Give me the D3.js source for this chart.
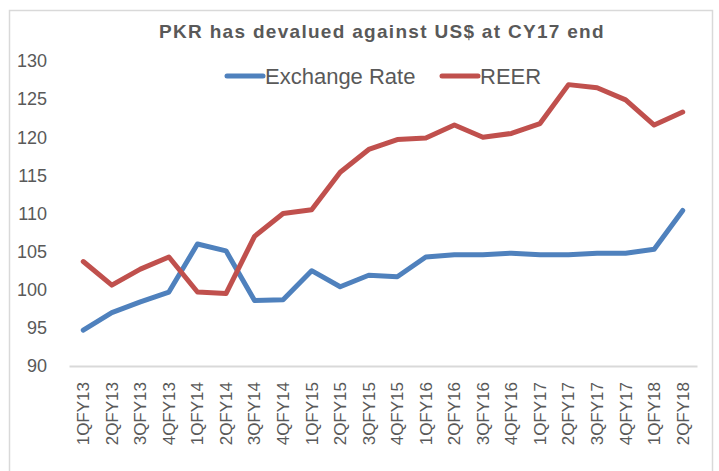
<!DOCTYPE html>
<html>
<head>
<meta charset="utf-8">
<script src="https://cdn.jsdelivr.net/npm/d3@7"></script>
<style>
  body { margin: 0; background: #fff; }
  text { fill: #595959; font-family: "Liberation Sans", Arial, sans-serif; }
</style>
</head>
<body>
<div id="chart"></div>
<script>
// quarters on the x axis
var quarters = ["1QFY13", "2QFY13", "3QFY13", "4QFY13", "1QFY14", "2QFY14", "3QFY14", "4QFY14",
  "1QFY15", "2QFY15", "3QFY15", "4QFY15", "1QFY16", "2QFY16", "3QFY16", "4QFY16",
  "1QFY17", "2QFY17", "3QFY17", "4QFY17", "1QFY18", "2QFY18"];

// series values
var exchangeRate = [94.7, 97.0, 98.4, 99.7, 106.0, 105.1, 98.6, 98.7, 102.5, 100.4, 101.9, 101.7,
  104.3, 104.6, 104.6, 104.8, 104.6, 104.6, 104.8, 104.8, 105.3, 110.4];
var reer = [103.7, 100.6, 102.7, 104.3, 99.7, 99.5, 107.0, 110.0, 110.5, 115.4, 118.4, 119.7,
  119.9, 121.6, 120.0, 120.5, 121.8, 126.9, 126.5, 124.9, 121.6, 123.3];

var yTicks = [90, 95, 100, 105, 110, 115, 120, 125, 130];

var svgWidth = 719;
var svgHeight = 471;

var margin = { top: 61, right: 22, bottom: 105, left: 69 };
var width = svgWidth - margin.left - margin.right;
var height = svgHeight - margin.top - margin.bottom;

var svg = d3.select("#chart")
  .append("svg")
  .attr("width", svgWidth)
  .attr("height", svgHeight);

// outer frame
svg.append("rect")
  .attr("x", 9.5)
  .attr("y", 10.5)
  .attr("width", 703)
  .attr("height", 480)
  .attr("fill", "none")
  .attr("stroke", "#d9d9d9")
  .attr("stroke-width", 1.5);

// title
svg.append("text")
  .attr("x", 382)
  .attr("y", 38)
  .attr("text-anchor", "middle")
  .attr("font-weight", "bold")
  .attr("font-size", "19px")
  .attr("letter-spacing", "1.3px")
  .text("PKR has devalued against US$ at CY17 end");

var chartGroup = svg.append("g")
  .attr("transform", `translate(${margin.left}, ${margin.top})`);

var xScale = d3.scaleBand()
  .domain(quarters)
  .range([0, width]);

var yScale = d3.scaleLinear()
  .domain([90, 130])
  .range([height, 0]);

// y axis: labels only
var leftAxis = d3.axisLeft(yScale)
  .tickValues(yTicks)
  .tickSize(0)
  .tickPadding(22);

var yAxis = chartGroup.append("g")
  .call(leftAxis);
yAxis.select(".domain").remove();
yAxis.selectAll("text")
  .attr("font-size", "18px")
  .attr("font-family", null)
  .attr("fill", null);

// x axis with baseline
var bottomAxis = d3.axisBottom(xScale).tickSize(0);
var xAxis = chartGroup.append("g")
  .attr("transform", `translate(0, ${height})`)
  .call(bottomAxis);
xAxis.select(".domain")
  .attr("stroke", "#d9d9d9")
  .attr("stroke-width", 2);
xAxis.selectAll("text")
  .attr("font-size", "17px")
  .attr("font-family", null)
  .attr("fill", null)
  .attr("transform", "rotate(-90)")
  .attr("text-anchor", "end")
  .attr("x", -16)
  .attr("y", 0)
  .attr("dy", "0.35em");

var line = d3.line()
  .x((d, i) => xScale(quarters[i]) + xScale.bandwidth() / 2)
  .y(d => yScale(d));

var series = [
  { name: "Exchange Rate", values: exchangeRate, color: "#4f81bd" },
  { name: "REER", values: reer, color: "#c0504d" }
];

series.forEach(function(s) {
  chartGroup.append("path")
    .datum(s.values)
    .attr("d", line)
    .attr("fill", "none")
    .attr("stroke", s.color)
    .attr("stroke-width", 5)
    .attr("stroke-linejoin", "round")
    .attr("stroke-linecap", "round");
});

// legend
var legendPos = [227, 442];
series.forEach(function(s, i) {
  var g = svg.append("g")
    .attr("transform", `translate(${legendPos[i]}, 76)`);
  g.append("line")
    .attr("x1", 0)
    .attr("x2", 36)
    .attr("stroke", s.color)
    .attr("stroke-width", 5)
    .attr("stroke-linecap", "round");
  g.append("text")
    .attr("x", 38)
    .attr("dy", "0.35em")
    .attr("font-size", "22px")
    .text(s.name);
});
</script>
</body>
</html>
